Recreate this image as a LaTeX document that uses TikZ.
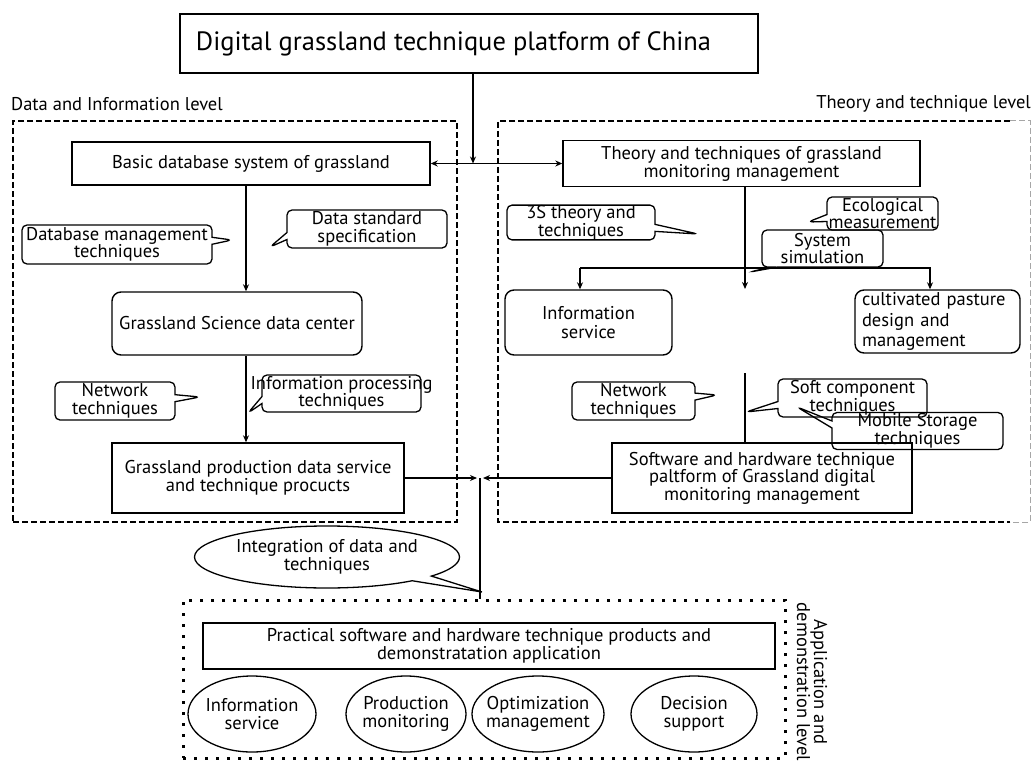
\documentclass[tikz,border=0pt]{standalone}
\usepackage{fontspec}
\setmainfont{PT Sans}
\usetikzlibrary{shapes.callouts,shapes.geometric,arrows.meta}
\newcommand\boxfont{\fontsize{18.5}{17.5}\selectfont}
\newcommand\titlefont{\fontsize{26.5}{28}\selectfont}
\newcommand\lvlfont{\fontsize{18.5}{18}\selectfont}
\begin{document}
\begin{tikzpicture}[x=1pt,y=-1pt,
  box/.style={draw,line width=1.4pt,align=center,inner sep=0pt,font=\boxfont},
  rbox/.style={box,rounded corners=9pt},
  call/.style={rectangle callout,draw,line width=1.3pt,rounded corners=5pt,align=center,
    inner sep=0pt,font=\boxfont,callout pointer width=7pt},
  ecall/.style={ellipse callout,draw,line width=1.3pt,align=center,inner sep=0pt,font=\boxfont,
    callout pointer arc=12},
  oval/.style={ellipse,draw,line width=1.3pt,align=center,inner ysep=0pt,inner xsep=-6pt,font=\boxfont},
  arr/.style={line width=1.3pt,-{Stealth[length=7pt,width=6pt]}},
  arrb/.style={line width=1.3pt,{Stealth[length=7pt,width=6pt]}-{Stealth[length=7pt,width=6pt]}},
  ln/.style={line width=1.3pt},
  dframe/.style={draw,line width=2.6pt,dash pattern=on 6pt off 3pt},
  dotframe/.style={draw,line width=3pt,dash pattern=on 3pt off 8pt}
]
\useasboundingbox (0,0) rectangle (1032,762);
\fill[white] (0,0) rectangle (1032,762);

% frames
\node[dframe,minimum width=444,minimum height=401,inner sep=0] (lframe) at (235,321.5) {};
\draw[line width=2.6pt,dash pattern=on 6pt off 3pt] (1010,121) -- (498,121) -- (498,522) -- (1010,522);
\draw[line width=1pt,dash pattern=on 6pt off 3pt,black!35] (1010,121) -- (1030,121) -- (1030,522) -- (1010,522);

\node[font=\lvlfont,anchor=west,inner sep=0] (lvlL) at (11,104) {Data and Information level};
\node[font=\lvlfont,anchor=east,inner sep=0] (lvlR) at (1031,104) {Theory and technique level};

% title
\node[box,font=\titlefont,minimum width=578,minimum height=59] (title) at (469,43.5) {\hspace*{-31pt}Digital grassland technique platform of China};

% main boxes
\node[box,minimum width=358,minimum height=43] (basic) at (251,163.5) {Basic database system of grassland};
\node[box,minimum width=357,minimum height=46,font=\fontsize{18.5}{17}\selectfont] (theory) at (741.5,163.5) {Theory and techniques of grassland\\monitoring management};
\node[rbox,minimum width=250,minimum height=63] (dc) at (237,323.5) {Grassland Science data center};
\node[box,minimum width=292,minimum height=70,font=\fontsize{18.5}{18}\selectfont] (prod) at (258,478) {Grassland production data service\\and technique procucts};
\node[rbox,minimum width=167,minimum height=65,font=\fontsize{18.5}{19}\selectfont] (info) at (588.5,322.5) {Information\\service};
\node[rbox,minimum width=165,minimum height=63,align=left,text width=151,inner xsep=7pt,font=\fontsize{18.5}{20.5}\selectfont] (cult) at (937.5,321.5) {cultivated pasture\\design and\\management};
\node[box,minimum width=300,minimum height=70,font=\fontsize{18.5}{17.5}\selectfont] (soft) at (762,478) {Software and hardware technique\\paltform of Grassland digital\\monitoring management};

% connectors
\coordinate (T) at (473,163.5);
\draw[arr] (title.south -| T) -- (T);
\draw[arrb] (basic.east) -- (theory.west);
\coordinate (L1) at (246,0);
\draw[arr] (basic.south -| L1) -- (dc.north -| L1);
\draw[arr] (dc.south -| L1) -- (prod.north -| L1);
\coordinate (R1) at (745,289);
\draw[arr] (theory.south -| R1) -- (R1);
\coordinate (BL) at (580,268);
\coordinate (BR) at (930,268);
\draw[arr] (BL) -- (info.north -| BL);
\draw[arr] (BL) -- (BR) -- (cult.north -| BR);
\coordinate (R2) at (745,373);
\draw[ln] (R2) -- (soft.north -| R2);
\coordinate (J) at (480,478);
\draw[arr,shorten >=3pt] (prod.east) -- (J);
\draw[arr,shorten >=3pt] (soft.west) -- (J);

% application frame
\node[dotframe,minimum width=602,minimum height=158,inner sep=0] (app) at (484,679) {};
\draw[ln] (J) -- (app.north -| J);
\node[font=\fontsize{18.5}{17}\selectfont,rotate=-90,align=center,inner sep=0] (applbl) at (812,682) {Application and\\demonstration level};
\node[box,minimum width=572,minimum height=46,font=\fontsize{18.5}{17.5}\selectfont] (prac) at (489,646) {Practical software and hardware technique products and\\demonstratation application};
\node[oval,minimum width=128,minimum height=76] (o1) at (252,714) {Information\\service};
\node[oval,minimum width=120,minimum height=76] (o2) at (406,714) {Production\\monitoring};
\node[oval,minimum width=132,minimum height=76] (o3) at (538,714) {Optimization\\management};
\node[oval,minimum width=126,minimum height=76] (o4) at (694,714) {Decision\\support};

% callouts
\coordinate (p1) at (232,240);
\node[call,minimum width=190,minimum height=39,callout absolute pointer=(p1)] (dbm) at (117,244.5) {Database management\\techniques};
\coordinate (p2) at (270,247);
\node[call,minimum width=160,minimum height=38,callout absolute pointer=(p2)] (dss) at (367,229) {Data standard\\specification};
\coordinate (p3) at (200,397);
\node[call,minimum width=120,minimum height=38,callout absolute pointer=(p3)] (netL) at (115,401) {Network\\techniques};
\coordinate (p4) at (248,413);
\node[call,minimum width=159,minimum height=37,inner xsep=-12pt,callout absolute pointer=(p4)] (ipt) at (341.5,393.5) {Information processing\\techniques};
\coordinate (p5) at (698,234);
\node[call,minimum width=148,minimum height=31,font=\fontsize{18.5}{15.5}\selectfont,callout absolute pointer=(p5)] (s3) at (581,222.5) {3S theory and\\techniques};
\coordinate (p6) at (808,222);
\node[call,minimum width=111,minimum height=33,callout absolute pointer=(p6)] (eco) at (882.5,213.5) {Ecological\\measurement};
\coordinate (p7) at (750,272);
\node[call,minimum width=121,minimum height=37,callout absolute pointer=(p7)] (sys) at (822.5,248.5) {System\\simulation};
\coordinate (p8) at (717,395);
\node[call,minimum width=123,minimum height=38,callout absolute pointer=(p8)] (netR) at (633.5,401) {Network\\techniques};
\coordinate (p9) at (746,412);
\node[call,minimum width=149,minimum height=38,font=\fontsize{18.5}{16}\selectfont,callout absolute pointer=(p9)] (sct) at (852.5,398) {Soft component\\techniques};
\coordinate (p10) at (797,407);
\node[call,minimum width=171,minimum height=37,callout absolute pointer=(p10)] (mst) at (917.5,431) {Mobile Storage\\techniques};
\coordinate (p11) at (482,592);
\node[ecall,minimum width=265,minimum height=62,callout absolute pointer=(p11)] (integ) at (327,557) {Integration of data and\\techniques};
\end{tikzpicture}
\end{document}
